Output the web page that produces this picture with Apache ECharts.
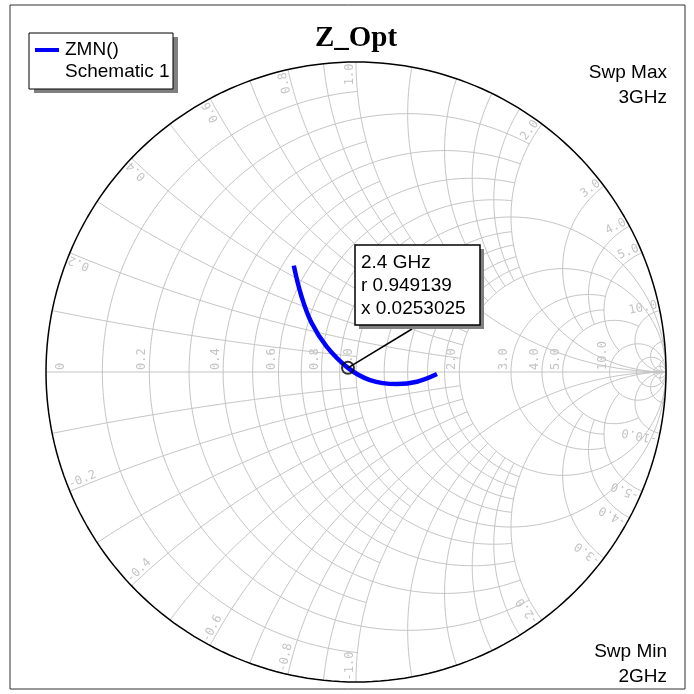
<!DOCTYPE html>
<html>
<head>
<meta charset="utf-8">
<script src="https://cdn.jsdelivr.net/npm/echarts@6/dist/echarts.min.js"></script>
<style>
  html, body { margin: 0; padding: 0; background: #ffffff; }
  #chart { width: 694px; height: 694px; }
</style>
</head>
<body>
<div id="chart"></div>
<script>
// ZMN() of Schematic 1, normalized impedance, swept from 2 GHz up to 3 GHz
const traceR = [1.707, 1.485, 1.299, 1.093, 0.949139, 0.817, 0.717, 0.631, 0.540];
const traceX = [-0.024, -0.097, -0.103, -0.057, 0.0253025, 0.136, 0.237, 0.338, 0.440];

// marker readout
const markerLabel = ['2.4 GHz', 'r 0.949139', 'x 0.0253025'];
const markerR = 0.949139;
const markerX = 0.0253025;

// Smith grid: constant-resistance circles and how far (in |x|) each one reaches
const resistanceValues = [0.1, 0.2, 0.3, 0.4, 0.5, 0.6, 0.7, 0.8, 0.9, 1, 1.2, 1.4, 1.6, 1.8, 2, 3, 4, 5, 10, 20, 50];
const resistanceReach  = [1, 2, 1, 2, 1, 2, 1, 2, 1, Infinity, 2, 2, 2, 2, Infinity, 5, 5, 10, Infinity, Infinity, Infinity];
// constant-reactance arcs and how far (in r) each one reaches
const reactanceValues = [0.1, 0.2, 0.3, 0.4, 0.5, 0.6, 0.7, 0.8, 0.9, 1, 1.2, 1.4, 1.6, 1.8, 2, 3, 4, 5, 10, 20, 50];
const reactanceReach  = [1, 2, 1, 2, 1, 2, 1, 2, 1, Infinity, 2, 2, 2, 2, Infinity, 5, 5, 10, Infinity, Infinity, Infinity];

// grid labels
const resistanceLabels = [0, 0.2, 0.4, 0.6, 0.8, 1, 2, 3, 4, 5, 10];
const reactanceLabels = [0.2, 0.4, 0.6, 0.8, 1, 2, 3, 4, 5, 10];

const sweepTop = ['Swp Max', '3GHz'];
const sweepBottom = ['Swp Min', '2GHz'];

const GRID_COLOR = '#c4c4c4';
const LABEL_COLOR = '#c4c4c4';
const SANS = 'Liberation Sans, Arial, sans-serif';

// reflection coefficient of a normalized impedance r + jx
function gamma(r, x) {
  const den = (r + 1) * (r + 1) + x * x;
  return [(r * r - 1 + x * x) / den, (2 * x) / den];
}

function resistanceArc(r, reach) {
  const c = r / (1 + r), a = 1 / (1 + r);
  let t0 = 0, t1 = 2 * Math.PI;
  if (isFinite(reach)) {
    const p = gamma(r, reach);
    t0 = Math.atan2(p[1], p[0] - c);
    t1 = 2 * Math.PI - t0;
  }
  const pts = [];
  const n = 240;
  for (let i = 0; i <= n; i++) {
    const t = t0 + (t1 - t0) * i / n;
    pts.push([c + a * Math.cos(t), a * Math.sin(t)]);
  }
  return pts;
}

function reactanceArc(x, reach) {
  const cy = 1 / x, a = Math.abs(1 / x);
  const p0 = gamma(0, x);
  const p1 = isFinite(reach) ? gamma(reach, x) : [1, 0];
  const f0 = Math.atan2(p0[1] - cy, p0[0] - 1);
  let d = Math.atan2(p1[1] - cy, p1[0] - 1) - f0;
  while (d > Math.PI) d -= 2 * Math.PI;
  while (d < -Math.PI) d += 2 * Math.PI;
  const pts = [];
  const n = 200;
  for (let i = 0; i <= n; i++) {
    const f = f0 + d * i / n;
    pts.push([1 + a * Math.cos(f), cy + a * Math.sin(f)]);
  }
  return pts;
}

function lineSeries(data, color, width, z) {
  return {
    type: 'line', data: data, showSymbol: false, silent: true, animation: false,
    lineStyle: { color: color, width: width }, z: z, clip: false
  };
}

const series = [];
resistanceValues.forEach((r, i) => {
  series.push(lineSeries(resistanceArc(r, resistanceReach[i]), GRID_COLOR, 1, 1));
});
reactanceValues.forEach((x, i) => {
  series.push(lineSeries(reactanceArc(x, reactanceReach[i]), GRID_COLOR, 1, 1));
  series.push(lineSeries(reactanceArc(-x, reactanceReach[i]), GRID_COLOR, 1, 1));
});
// real axis
series.push(lineSeries([[-1, 0], [1, 0]], GRID_COLOR, 1, 1));
// outer boundary r = 0
series.push(lineSeries(resistanceArc(0, Infinity), '#000000', 1.5, 2));

// the trace
series.push({
  type: 'line', name: 'ZMN()',
  data: traceR.map((r, i) => gamma(r, traceX[i])),
  smooth: 0.4, showSymbol: false, animation: false,
  lineStyle: { color: '#0000ff', width: 4.5 }, z: 5
});
// marker ring
series.push({
  type: 'scatter', data: [gamma(markerR, markerX)], animation: false,
  symbol: 'circle', symbolSize: 12,
  itemStyle: { color: 'rgba(0,0,0,0)', borderColor: '#000000', borderWidth: 2 }, z: 7
});

const chart = echarts.init(document.getElementById('chart'), null, { renderer: 'canvas' });
chart.setOption({
  backgroundColor: '#ffffff',
  animation: false,
  grid: { left: 46, top: 62, width: 620, height: 620 },
  xAxis: { type: 'value', min: -1, max: 1, show: false },
  yAxis: { type: 'value', min: -1, max: 1, show: false },
  series: series
});

function px(p) { return chart.convertToPixel({ gridIndex: 0 }, p); }

const g = [];
const center = px([0, 0]);

// resistance labels along the real axis
resistanceLabels.forEach(r => {
  const p = px(gamma(r, 0));
  const txt = r === 0 ? '0' : r.toFixed(1);
  g.push({
    type: 'text', x: r === 0 ? p[0] + 9 : p[0] - 1, y: p[1] - 2, rotation: Math.PI / 2,
    style: { text: txt, fill: LABEL_COLOR, font: '12px "DejaVu Sans Mono", monospace',
             align: 'left', verticalAlign: r === 0 ? 'top' : 'bottom' },
    z: 3
  });
});
// reactance labels at the rim
reactanceLabels.forEach(x => {
  [1, -1].forEach(s => {
    const q = gamma(0, s * x);
    const th = Math.atan2(q[1], q[0]);
    const p = px([q[0] * 0.995, q[1] * 0.995]);
    const txt = (s < 0 ? '-' : '') + x.toFixed(1);
    g.push({
      type: 'text', x: p[0], y: p[1],
      rotation: s > 0 ? th : th + Math.PI,
      style: { text: txt, fill: LABEL_COLOR, font: '12px "DejaVu Sans Mono", monospace',
               align: s > 0 ? 'right' : 'left', verticalAlign: 'bottom' },
      z: 3
    });
  });
});

// outer frame
g.push({ type: 'rect', shape: { x: 10, y: 5, width: 675, height: 684 },
         style: { fill: 'none', stroke: '#303030', lineWidth: 1 }, z: 0 });

// title
g.push({ type: 'text', x: center[0], y: 39,
         style: { text: 'Z_Opt', font: 'bold 29px "Liberation Serif", "Times New Roman", serif',
                  fill: '#000000', align: 'center', verticalAlign: 'middle' }, z: 10 });

// legend
g.push({ type: 'rect', shape: { x: 34, y: 37, width: 144, height: 56 }, style: { fill: '#808080' }, z: 10 });
g.push({ type: 'rect', shape: { x: 29, y: 33, width: 144, height: 56 },
         style: { fill: '#ffffff', stroke: '#000000', lineWidth: 1 }, z: 11 });
g.push({ type: 'line', shape: { x1: 35, y1: 50, x2: 59, y2: 50 },
         style: { stroke: '#0000ff', lineWidth: 4 }, z: 12 });
g.push({ type: 'text', x: 65, y: 50,
         style: { text: 'ZMN()', font: '19px ' + SANS, fill: '#000000', verticalAlign: 'middle' }, z: 12 });
g.push({ type: 'text', x: 65, y: 72,
         style: { text: 'Schematic 1', font: '19px ' + SANS, fill: '#000000', verticalAlign: 'middle' }, z: 12 });

// sweep annotations
g.push({ type: 'text', x: 667, y: 73,
         style: { text: sweepTop[0], font: '19px ' + SANS, fill: '#000000', align: 'right', verticalAlign: 'middle' }, z: 10 });
g.push({ type: 'text', x: 667, y: 98,
         style: { text: sweepTop[1], font: '19px ' + SANS, fill: '#000000', align: 'right', verticalAlign: 'middle' }, z: 10 });
g.push({ type: 'text', x: 667, y: 652,
         style: { text: sweepBottom[0], font: '19px ' + SANS, fill: '#000000', align: 'right', verticalAlign: 'middle' }, z: 10 });
g.push({ type: 'text', x: 667, y: 677,
         style: { text: sweepBottom[1], font: '19px ' + SANS, fill: '#000000', align: 'right', verticalAlign: 'middle' }, z: 10 });

// marker readout box with leader
const mp = px(gamma(markerR, markerX));
g.push({ type: 'line', shape: { x1: mp[0], y1: mp[1], x2: 412, y2: 329 },
         style: { stroke: '#000000', lineWidth: 1.5 }, z: 6 });
g.push({ type: 'rect', shape: { x: 359, y: 249, width: 125, height: 80 }, style: { fill: '#808080' }, z: 8 });
g.push({ type: 'rect', shape: { x: 355, y: 245, width: 125, height: 80 },
         style: { fill: '#ffffff', stroke: '#000000', lineWidth: 1.5 }, z: 9 });
markerLabel.forEach((t, i) => {
  g.push({ type: 'text', x: 361, y: 262.5 + i * 23,
           style: { text: t, font: '19px ' + SANS, fill: '#000000', verticalAlign: 'middle' }, z: 10 });
});

chart.setOption({ graphic: g });
</script>
</body>
</html>
